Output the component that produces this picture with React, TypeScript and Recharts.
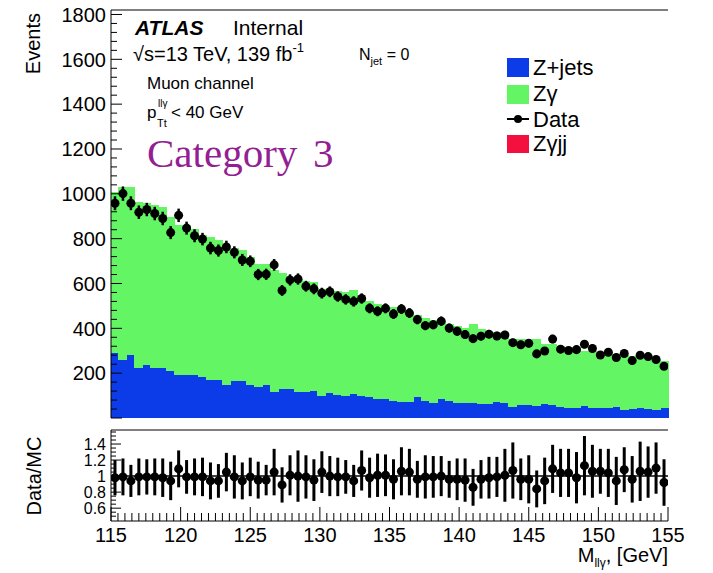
import React from 'react';
import { ComposedChart, Bar, Scatter, XAxis, YAxis, ErrorBar, ReferenceLine } from 'recharts';

const FONT = '"Liberation Sans", Arial, Helvetica, sans-serif';
const BLUE = '#0b3ce8';
const GREEN = '#63f563';
const RED = '#f4103e';
const PURPLE = '#931f93';

// M_llγ range, 70 bins
const mLow = 115;
const mHigh = 155;

// events per bin (data)
const dataEvents = [
  958, 1001, 958, 918, 930, 912, 890, 827, 904, 847,
  813, 798, 758, 747, 763, 739, 705, 699, 640, 641,
  683, 569, 616, 620, 588, 576, 557, 563, 542, 529,
  520, 533, 489, 476, 489, 464, 486, 468, 439, 412,
  416, 432, 401, 387, 372, 354, 365, 374, 366, 370,
  336, 327, 333, 286, 299, 352, 307, 301, 305, 329,
  310, 281, 293, 270, 288, 256, 280, 274, 261, 231,
];
const dataErr = [
  31, 32, 31, 30, 30, 30, 30, 29, 30, 29,
  29, 28, 28, 27, 28, 27, 27, 26, 25, 25,
  26, 24, 25, 25, 24, 24, 24, 24, 23, 23,
  23, 23, 22, 22, 22, 22, 22, 22, 21, 20,
  20, 21, 20, 20, 19, 19, 19, 19, 19, 19,
  18, 18, 18, 17, 17, 19, 18, 17, 17, 18,
  18, 17, 17, 16, 17, 16, 17, 17, 16, 15,
];
// top of the MC stack (Z+jets + Zγ)
const mcTotal = [
  1005, 1030, 1030, 960, 955, 950, 940, 895, 860, 860,
  840, 815, 805, 790, 750, 755, 745, 715, 685, 685,
  660, 645, 625, 620, 610, 605, 575, 575, 565, 560,
  568, 535, 520, 505, 495, 493, 480, 470, 458, 445,
  435, 428, 418, 410, 400, 415, 395, 385, 382, 380,
  350, 350, 352, 350, 330, 327, 318, 316, 314, 295,
  295, 292, 288, 282, 280, 275, 268, 262, 258, 253,
];
const zJets = [
  290, 261, 283, 225, 239, 224, 224, 213, 196, 196,
  196, 187, 172, 172, 151, 166, 166, 151, 142, 151,
  116, 132, 131, 120, 119, 124, 102, 114, 105, 99,
  110, 102, 95, 87, 87, 80, 73, 73, 98, 77,
  68, 87, 77, 68, 68, 68, 65, 65, 73, 70,
  50, 58, 58, 54, 65, 58, 50, 47, 47, 54,
  47, 47, 47, 50, 39, 43, 47, 43, 36, 47,
];
// Data/MC panel
const ratio = [
  0.98, 0.99, 0.94, 0.99, 0.99, 0.99, 0.98, 0.94, 1.09, 0.99,
  0.99, 0.99, 0.94, 0.94, 1.05, 0.99, 0.94, 0.99, 0.95, 0.95,
  1.05, 0.89, 1.01, 1.0, 0.99, 0.95, 1.05, 1.0, 0.99, 0.99,
  0.94, 1.07, 0.98, 1.01, 1.01, 0.96, 1.06, 1.05, 0.96, 0.99,
  0.99, 1.0, 0.96, 0.96, 0.95, 0.86, 0.96, 0.98, 0.99, 1.01,
  1.07, 0.96, 0.96, 0.84, 0.94, 1.09, 1.04, 1.04, 0.98, 1.13,
  1.06, 1.06, 1.04, 0.94, 1.08, 0.96, 1.06, 1.05, 1.1, 0.92,
];
const ratioErr = [
  0.22, 0.23, 0.2, 0.23, 0.22, 0.23, 0.24, 0.24, 0.23, 0.21,
  0.23, 0.24, 0.23, 0.21, 0.24, 0.27, 0.23, 0.24, 0.23, 0.19,
  0.29, 0.22, 0.25, 0.32, 0.27, 0.26, 0.26, 0.25, 0.24, 0.21,
  0.2, 0.25, 0.25, 0.27, 0.26, 0.25, 0.3, 0.29, 0.23, 0.27,
  0.26, 0.25, 0.23, 0.26, 0.27, 0.23, 0.24, 0.26, 0.25, 0.33,
  0.35, 0.26, 0.3, 0.23, 0.29, 0.3, 0.3, 0.3, 0.32, 0.37,
  0.33, 0.28, 0.3, 0.3, 0.28, 0.29, 0.37, 0.32, 0.32, 0.29,
];

// axis ticks
const xTicks = Array.from({ length: 81 }, (_, i) => mLow + i * 0.5);
const mainYTicks = Array.from({ length: 46 }, (_, i) => i * 40);
const ratioYTicks = Array.from({ length: 22 }, (_, i) => +(0.5 + i * 0.05).toFixed(2));

const binWidth = (mHigh - mLow) / dataEvents.length;

const mainRows = dataEvents.map((d, i) => ({
  bin: i,
  m: mLow + (i + 0.5) * binWidth,
  zjets: zJets[i],
  zgamma: mcTotal[i] - zJets[i],
  data: d,
  dataErr: dataErr[i],
}));

const ratioRows = ratio.map((r, i) => ({
  m: mLow + (i + 0.5) * binWidth,
  r,
  rErr: ratioErr[i],
}));

const isMajorX = (v: number) => Math.abs(v / 5 - Math.round(v / 5)) < 1e-6;
const isMajorRatio = (v: number) =>
  Math.abs(v * 5 - Math.round(v * 5)) < 1e-6 && v > 0.55 && v < 1.45;

function xTick(side: 'top' | 'bottom', big: number, small: number, labels: boolean) {
  return (props: any) => {
    const { x, y, payload } = props;
    const v = payload.value;
    const major = isMajorX(v);
    const len = major ? big : small;
    const y2 = side === 'bottom' ? y - len : y + len;
    return (
      <g>
        <line x1={x} x2={x} y1={y} y2={y2} stroke="#000" strokeWidth={1} />
        {labels && major && (
          <text x={x} y={y + 21} textAnchor="middle" fontSize={20} fontFamily={FONT} fill="#000">
            {v}
          </text>
        )}
      </g>
    );
  };
}

function mainYTick(side: 'left' | 'right') {
  return (props: any) => {
    const { x, y, payload } = props;
    const v = payload.value;
    const major = v % 200 === 0;
    const len = major ? 11 : 6;
    const dir = side === 'left' ? 1 : -1;
    return (
      <g>
        <line x1={x} x2={x + dir * len} y1={y} y2={y} stroke="#000" strokeWidth={1} />
        {side === 'left' && major && v > 0 && (
          <text x={x - 5} y={y} dy="0.36em" textAnchor="end" fontSize={20} fontFamily={FONT} fill="#000">
            {v}
          </text>
        )}
      </g>
    );
  };
}

function ratioYTick(side: 'left' | 'right') {
  return (props: any) => {
    const { x, y, payload } = props;
    const v = payload.value;
    const major = isMajorRatio(v);
    const len = major ? 10 : 5;
    const dir = side === 'left' ? 1 : -1;
    return (
      <g>
        <line x1={x} x2={x + dir * len} y1={y} y2={y} stroke="#000" strokeWidth={1} />
        {side === 'left' && major && (
          <text x={x - 5} y={y} dy="0.36em" textAnchor="end" fontSize={16} fontFamily={FONT} fill="#000">
            {Math.abs(v - 1) < 1e-6 ? '1' : v.toFixed(1)}
          </text>
        )}
      </g>
    );
  };
}

const axisCommon = {
  tickSize: 0,
  tickMargin: 0,
  tickLine: false,
  interval: 0 as const,
  allowDataOverflow: true,
  axisLine: { stroke: '#000', strokeWidth: 1 },
};

export default function App() {
  return (
    <div style={{ position: 'absolute', left: 0, top: 0, width: 713, height: 573, background: '#fff' }}>
      {/* main panel */}
      <div style={{ position: 'absolute', left: 0, top: 0 }}>
        <ComposedChart
          width={713}
          height={420}
          data={mainRows}
          margin={{ top: 9, right: 45, bottom: 1, left: 0 }}
          barCategoryGap={0}
          barGap={0}
        >
          <XAxis xAxisId="bins" dataKey="bin" type="category" hide />
          <Bar xAxisId="bins" yAxisId="n" dataKey="zjets" stackId="mc" fill={BLUE} stroke={BLUE} strokeWidth={1} shapeRendering="crispEdges" isAnimationActive={false} />
          <Bar xAxisId="bins" yAxisId="n" dataKey="zgamma" stackId="mc" fill={GREEN} stroke={GREEN} strokeWidth={1} shapeRendering="crispEdges" isAnimationActive={false} />
          <Scatter xAxisId="m" yAxisId="n" dataKey="data" fill="#000" isAnimationActive={false}>
            <ErrorBar dataKey="dataErr" direction="y" width={0} stroke="#000" strokeWidth={2.5} />
          </Scatter>
          <XAxis xAxisId="m" dataKey="m" type="number" domain={[mLow, mHigh]} ticks={xTicks} height={1} tick={xTick('bottom', 12, 6, false)} {...axisCommon} />
          <XAxis xAxisId="mTop" orientation="top" type="number" domain={[mLow, mHigh]} ticks={xTicks} height={1} tick={xTick('top', 12, 6, false)} {...axisCommon} />
          <YAxis yAxisId="n" type="number" domain={[0, 1820]} ticks={mainYTicks} width={111} tick={mainYTick('left')} {...axisCommon} />
          <YAxis yAxisId="nRight" orientation="right" type="number" domain={[0, 1820]} ticks={mainYTicks} width={0} tick={mainYTick('right')} {...axisCommon} />
        </ComposedChart>
      </div>

      {/* ratio panel */}
      <div style={{ position: 'absolute', left: 0, top: 425 }}>
        <ComposedChart width={713} height={148} data={ratioRows} margin={{ top: 4, right: 45, bottom: 51, left: 0 }}>
          <ReferenceLine xAxisId="m" yAxisId="r" y={1} stroke="#000" strokeWidth={1.5} />
          <Scatter xAxisId="m" yAxisId="r" dataKey="r" fill="#000" isAnimationActive={false}>
            <ErrorBar dataKey="rErr" direction="y" width={0} stroke="#000" strokeWidth={3} />
          </Scatter>
          <XAxis xAxisId="m" dataKey="m" type="number" domain={[mLow, mHigh]} ticks={xTicks} height={1} tick={xTick('bottom', 14, 8, true)} {...axisCommon} />
          <XAxis xAxisId="mTop" orientation="top" type="number" domain={[mLow, mHigh]} ticks={xTicks} height={1} tick={xTick('top', 14, 8, false)} {...axisCommon} />
          <YAxis yAxisId="r" type="number" domain={[0.44, 1.575]} ticks={ratioYTicks} width={111} tick={ratioYTick('left')} {...axisCommon} />
          <YAxis yAxisId="rRight" orientation="right" type="number" domain={[0.44, 1.575]} ticks={ratioYTicks} width={0} tick={ratioYTick('right')} {...axisCommon} />
        </ComposedChart>
      </div>

      {/* labels, annotations and legend */}
      <svg width={713} height={573} style={{ position: 'absolute', left: 0, top: 0, pointerEvents: 'none' }} fontFamily={FONT}>
        <text transform="translate(40,13) rotate(-90)" textAnchor="end" fontSize={20} fill="#000">Events</text>
        <text transform="translate(41,476) rotate(-90)" textAnchor="middle" fontSize={20} fill="#000">Data/MC</text>
        <text x={668} y={562} textAnchor="end" fontSize={20} fill="#000">
          M<tspan fontSize={12} dy={5}>llγ</tspan><tspan dy={-5}>, [GeV]</tspan>
        </text>

        <text x={135} y={35} fontSize={21} fontWeight="bold" fontStyle="italic" fill="#000">ATLAS</text>
        <text x={233} y={35} fontSize={21} fill="#000">Internal</text>
        <text x={133} y={61} fontSize={20} fill="#000">
          √s=13 TeV, 139 fb<tspan fontSize={13} dy={-9}>-1</tspan>
        </text>
        <text x={359} y={60} fontSize={16} fill="#000">
          N<tspan fontSize={11} dy={5}>jet</tspan><tspan dy={-5}> = 0</tspan>
        </text>
        <text x={147} y={89} fontSize={17} fill="#000">Muon channel</text>
        <text x={147} y={118} fontSize={17} fill="#000">p</text>
        <text x={158} y={107} fontSize={10} fill="#000">llγ</text>
        <text x={157} y={127} fontSize={11} fill="#000">Tt</text>
        <text x={171} y={118} fontSize={17} fill="#000">&lt; 40 GeV</text>
        <text x={147} y={167} fontSize={41} fontFamily='"Liberation Serif", "DejaVu Serif", serif' fill={PURPLE}>Category</text>
        <text x={313} y={167} fontSize={41} fontFamily='"Liberation Serif", "DejaVu Serif", serif' fill={PURPLE}>3</text>

        <rect x={507} y={58} width={22} height={19} fill={BLUE} />
        <text x={533} y={75} fontSize={22} fill="#000">Z+jets</text>
        <rect x={507} y={85} width={22} height={19} fill={GREEN} />
        <text x={533} y={101} fontSize={22} fill="#000">Zγ</text>
        <line x1={507} x2={529} y1={119} y2={119} stroke="#000" strokeWidth={2} />
        <circle cx={518} cy={119} r={4} fill="#000" />
        <text x={533} y={127} fontSize={22} fill="#000">Data</text>
        <rect x={507} y={135} width={22} height={18} fill={RED} />
        <text x={533} y={151} fontSize={22} fill="#000">Zγjj</text>
      </svg>
    </div>
  );
}
